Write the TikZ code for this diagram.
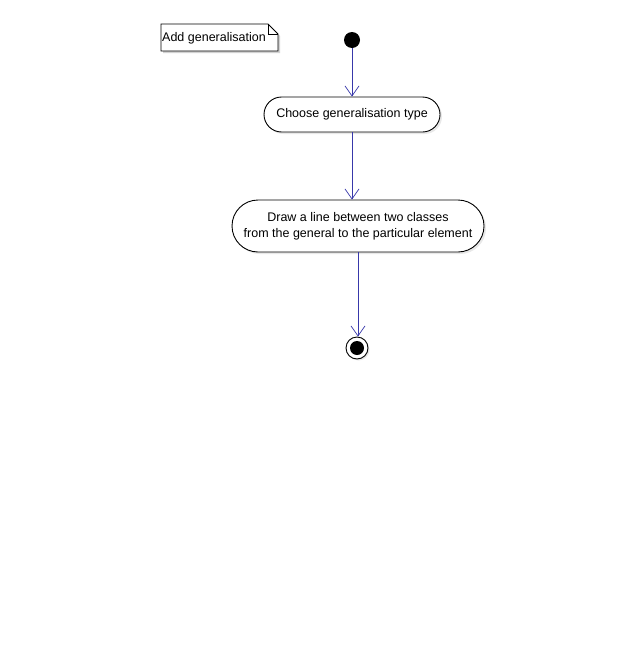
\documentclass[tikz,border=0pt]{standalone}
\usepackage{fontspec}
\setmainfont{Liberation Sans}
\usetikzlibrary{shapes.misc, arrows.meta, shadows, calc}

\definecolor{flowblue}{RGB}{56,56,170}

\tikzset{
    action/.style={rounded rectangle, draw, line width=0.9pt, fill=white, inner sep=0pt,
        align=center, font=\fontsize{12.5}{16}\selectfont,
        drop shadow={shadow xshift=2pt, shadow yshift=-2pt, fill=gray!35}},
    flow/.style={draw=flowblue, line width=0.9pt, -{Straight Barb[length=10pt, width=14pt, line width=0.7pt]}}
}

\begin{document}
\begin{tikzpicture}[x=1pt, y=-1pt]
    \fill[white] (0, 0) rectangle (644, 656);
    % note
    \fill[gray!35] (163, 26) -- (270, 26) -- (280, 36) -- (280, 53) -- (163, 53) -- cycle;
    \filldraw[fill=white, draw=black, line width=0.9pt] (161, 24) -- (268, 24) -- (278, 34) -- (278, 51) -- (161, 51) -- cycle;
    \draw[line width=0.9pt] (268, 24) -- (268, 34) -- (278, 34);
    \node[anchor=west, inner sep=0pt, font=\fontsize{12.5}{14}\selectfont] (note) at (162, 38.5) {Add generalisation};
    % flow
    \fill (352, 40) circle (8);
    \coordinate (start) at (352, 48);
    \node[action, minimum width=176pt, minimum height=35pt] (choose) at (352, 114.5) {Choose generalisation type};
    \node[action, minimum width=252pt, minimum height=52pt] (drawline) at (358, 226)
        {Draw a line between two classes\\from the general to the particular element};
    \node[circle, draw, line width=0.9pt, fill=white, minimum size=22pt, inner sep=0pt,
        drop shadow={shadow xshift=1.5pt, shadow yshift=-1.5pt, fill=gray!35}] (stop) at (357, 348) {};
    \fill (stop) circle (7);
    \draw[flow] (start) -- (choose.north);
    \draw[flow] (choose.south) -- (choose.south |- drawline.north);
    \draw[flow] (drawline.south) -- (drawline.south |- stop.north);
\end{tikzpicture}
\end{document}
